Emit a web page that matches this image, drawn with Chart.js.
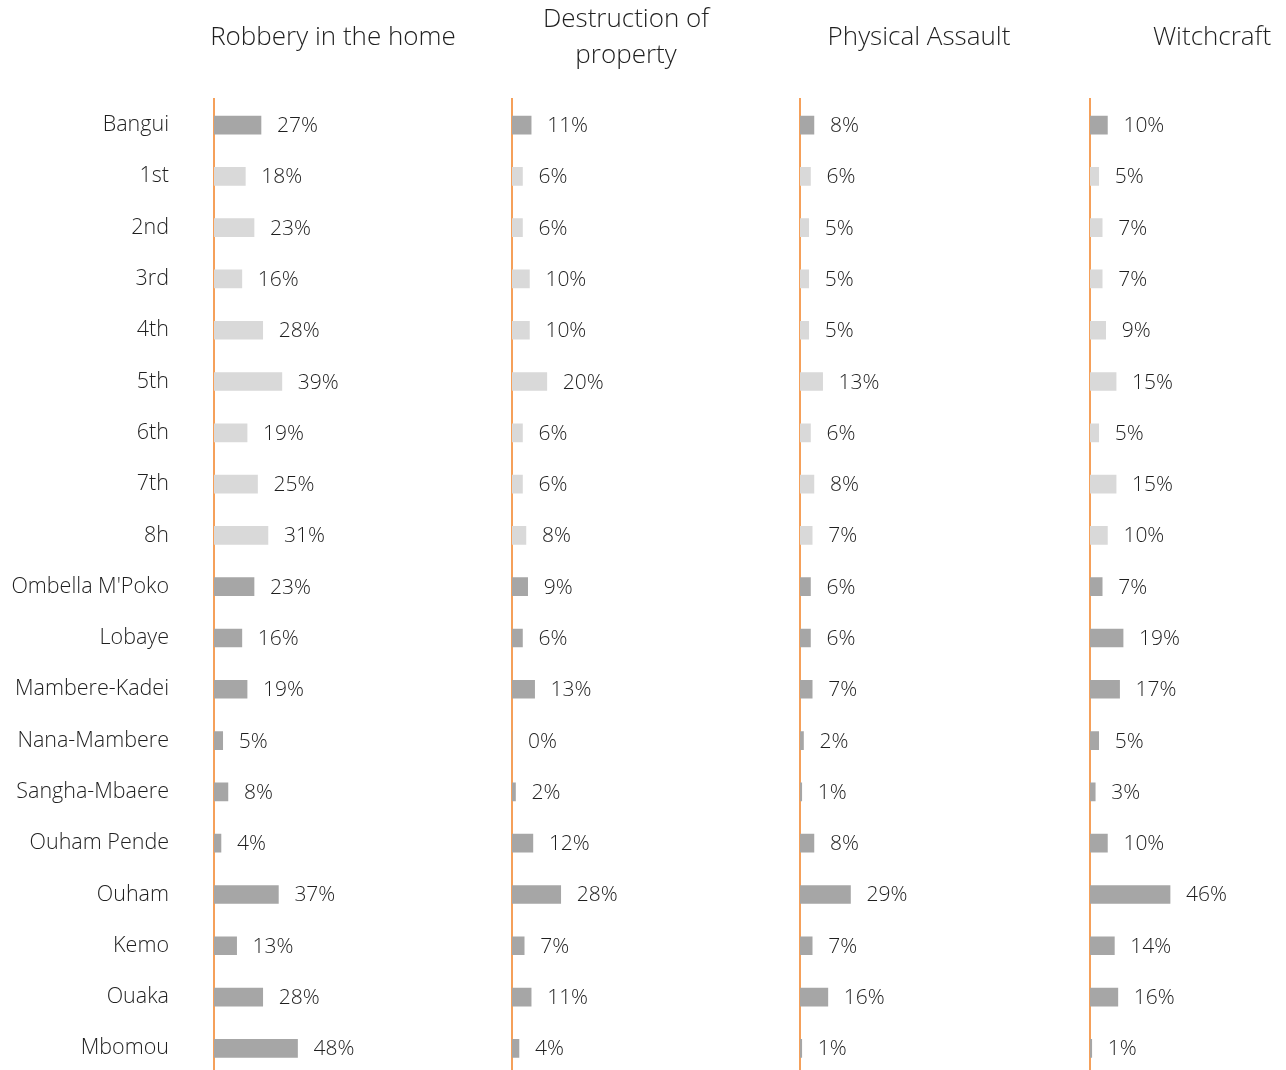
<!DOCTYPE html>
<html>
<head>
<meta charset="utf-8">
<script src="https://cdn.jsdelivr.net/npm/chart.js@4/dist/chart.umd.min.js"></script>
<style>
  html, body { margin:0; padding:0; background:#fff; width:1286px; height:1070px; overflow:hidden; }
  #wrap { position:relative; width:1286px; height:1070px; overflow:hidden; }
  canvas { position:absolute; top:0; }
  .ttl { position:absolute; font-family:"Open Sans", sans-serif; font-weight:300; font-size:26px; line-height:36px;
         color:#1f1f1f; text-align:center; width:320px; transform:translateX(-50%); white-space:nowrap; }
</style>
</head>
<body>
<div id="wrap"></div>
<script>
const categories = ["Bangui","1st","2nd","3rd","4th","5th","6th","7th","8h","Ombella M'Poko","Lobaye","Mambere-Kadei","Nana-Mambere","Sangha-Mbaere","Ouham Pende","Ouham","Kemo","Ouaka","Mbomou"];
const panelTitles = [["Robbery in the home"],["Destruction of","property"],["Physical Assault"],["Witchcraft"]];
const robbery     = [27,18,23,16,28,39,19,25,31,23,16,19,5,8,4,37,13,28,48];
const destruction = [11,6,6,10,10,20,6,6,8,9,6,13,0,2,12,28,7,11,4];
const physical    = [8,6,5,5,5,13,6,8,7,6,6,7,2,1,8,29,7,16,1];
const witchcraft  = [10,5,7,7,9,15,5,15,10,7,19,17,5,3,10,46,14,16,1];
const arrondissements = ["1st","2nd","3rd","4th","5th","6th","7th","8h"];

const series = [robbery, destruction, physical, witchcraft];
const DARK = '#A6A6A6', LIGHT = '#D9D9D9', ORANGE = '#F5A05A', TXT = '#1f1f1f';
const FONT = '"Open Sans", sans-serif';
const PX_PER_PCT = 1.74;
const panels = [
  {axis:214, right:512, titleX:333},
  {axis:512, right:800, titleX:626},
  {axis:800, right:1090, titleX:919},
  {axis:1090, right:1286, titleX:1212}
];
const CANVAS_H = 1074, TOP = 99.4;

const barLabels = {
  id:'barLabels',
  afterDatasetsDraw(chart){
    const ctx = chart.ctx;
    ctx.save();
    ctx.font = '300 21px ' + FONT;
    ctx.fillStyle = TXT;
    ctx.textAlign = 'left';
    ctx.textBaseline = 'middle';
    chart.data.datasets.forEach((ds, di) => {
      chart.getDatasetMeta(di).data.forEach((el, i) => {
        ctx.fillText(ds.data[i] + '%', el.x + 16, el.y + 1);
      });
    });
    ctx.restore();
  }
};

const wrap = document.getElementById('wrap');
panels.forEach((p, k) => {
  const yW = k === 0 ? p.axis : 10;
  const left = p.axis - yW;
  const width = p.right - left;
  const cv = document.createElement('canvas');
  cv.width = width; cv.height = CANVAS_H;
  cv.style.left = left + 'px';
  cv.style.width = width + 'px'; cv.style.height = CANVAS_H + 'px';
  wrap.appendChild(cv);

  const t = document.createElement('div');
  t.className = 'ttl';
  t.style.left = p.titleX + 'px';
  const lines = panelTitles[k];
  t.style.top = (lines.length === 1 ? 17 : -1) + 'px';
  t.innerHTML = lines.join('<br>');
  wrap.appendChild(t);

  const data = series[k];
  new Chart(cv, {
    type:'bar',
    data:{
      labels:categories,
      datasets:[{
        data:data,
        backgroundColor:categories.map(c => arrondissements.includes(c) ? LIGHT : DARK),
        borderWidth:0,
        barThickness:18
      }]
    },
    options:{
      indexAxis:'y',
      responsive:false,
      animation:false,
      devicePixelRatio:1,
      layout:{padding:{top:TOP, bottom:0, left:0, right:0}},
      plugins:{legend:{display:false}, tooltip:{enabled:false}, title:{display:false}},
      scales:{
        x:{display:false, min:0, max:(p.right - p.axis)/PX_PER_PCT},
        y:{
          display:true,
          offset:true,
          grid:{display:false, drawTicks:false},
          border:{display:true, color:ORANGE, width:2},
          ticks:{display:k===0, padding:45, color:TXT, font:{family:FONT, size:21.5, weight:'300'}},
          afterFit(scale){ scale.width = yW; scale.paddingTop = 0; scale.paddingBottom = 0; }
        }
      }
    },
    plugins:[barLabels]
  });
});
</script>
</body>
</html>
